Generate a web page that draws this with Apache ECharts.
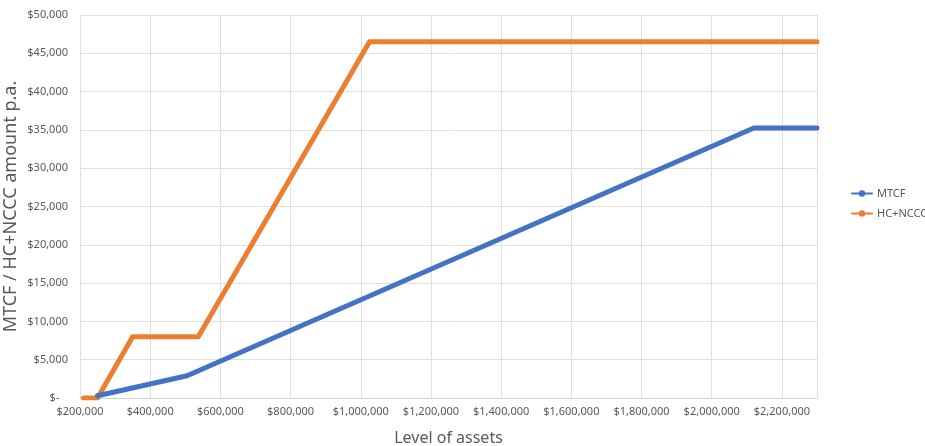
<!DOCTYPE html>
<html>
<head>
<meta charset="utf-8">
<script src="https://cdn.jsdelivr.net/npm/echarts@6/dist/echarts.min.js"></script>
<style>
  html, body { margin: 0; padding: 0; background: #fff; }
  #chart { width: 925px; height: 446px; }
</style>
</head>
<body>
<div id="chart"></div>
<script>
// level of assets (x) and amounts (y)
var mtcfAssets = [250000, 505000, 2120000, 2300000];
var mtcfValues = [300, 2900, 35250, 35250];
var hcAssets = [210000, 250000, 350000, 537000, 1025000, 2300000];
var hcValues = [0, 0, 8000, 8000, 46500, 46500];

var xTicks = [200000, 400000, 600000, 800000, 1000000, 1200000, 1400000, 1600000, 1800000, 2000000, 2200000];
var yTicks = [0, 5000, 10000, 15000, 20000, 25000, 30000, 35000, 40000, 45000, 50000];

function pairs(xs, ys) {
  var out = [];
  for (var i = 0; i < xs.length; i++) {
    out.push([xs[i], ys[i]]);
  }
  return out;
}

function money(v) {
  if (v === 0) return '$-   ';
  return '$' + v.toLocaleString('en-US');
}

var textColor = '#595959';
var font = 'Noto Sans';

var chart = echarts.init(document.getElementById('chart'));
chart.setOption({
  animation: false,
  textStyle: { fontFamily: font },
  grid: { left: 80, right: 108, top: 15, bottom: 48, containLabel: false, outerBoundsMode: 'none' },
  legend: {
    orient: 'vertical',
    left: 846,
    top: 183,
    itemWidth: 20,
    itemHeight: 8,
    itemGap: 9,
    textStyle: { color: textColor, fontSize: 11, fontFamily: font },
    data: ['MTCF', 'HC+NCCC']
  },
  xAxis: {
    type: 'value',
    min: xTicks[0],
    max: 2300000,
    interval: 200000,
    name: 'Level of assets',
    nameLocation: 'middle',
    nameGap: 32,
    nameMoveOverlap: false,
    nameTextStyle: { color: textColor, fontSize: 16, fontFamily: font },
    axisLine: { show: true, lineStyle: { color: '#d0d0d0', width: 1 } },
    axisTick: { show: false },
    axisLabel: {
      color: textColor,
      fontSize: 11,
      margin: 8,
      showMaxLabel: false,
      formatter: function (v) { return xTicks.indexOf(v) >= 0 ? money(v) : ''; }
    },
    splitLine: { show: true, lineStyle: { color: '#e0e0e0', width: 1 } }
  },
  yAxis: {
    type: 'value',
    min: 0,
    max: yTicks[yTicks.length - 1],
    interval: 5000,
    name: 'MTCF / HC+NCCC amount p.a.',
    nameLocation: 'middle',
    nameGap: 60,
    nameMoveOverlap: false,
    nameTextStyle: { color: textColor, fontSize: 18, fontFamily: font },
    axisLine: { show: false },
    axisTick: { show: false },
    axisLabel: {
      color: textColor,
      fontSize: 11,
      margin: 12,
      formatter: money
    },
    splitLine: { show: true, lineStyle: { color: '#e0e0e0', width: 1 } }
  },
  series: [
    {
      name: 'MTCF',
      type: 'line',
      data: pairs(mtcfAssets, mtcfValues),
      showSymbol: false,
      symbol: 'circle',
      symbolSize: 5,
      itemStyle: { color: '#4472C4' },
      lineStyle: { color: '#4472C4', width: 5, cap: 'round', join: 'round' },
      z: 3
    },
    {
      name: 'HC+NCCC',
      type: 'line',
      data: pairs(hcAssets, hcValues),
      showSymbol: false,
      symbol: 'circle',
      symbolSize: 5,
      itemStyle: { color: '#ED7D31' },
      lineStyle: { color: '#ED7D31', width: 5, cap: 'round', join: 'round' },
      z: 2
    }
  ]
});
</script>
</body>
</html>
